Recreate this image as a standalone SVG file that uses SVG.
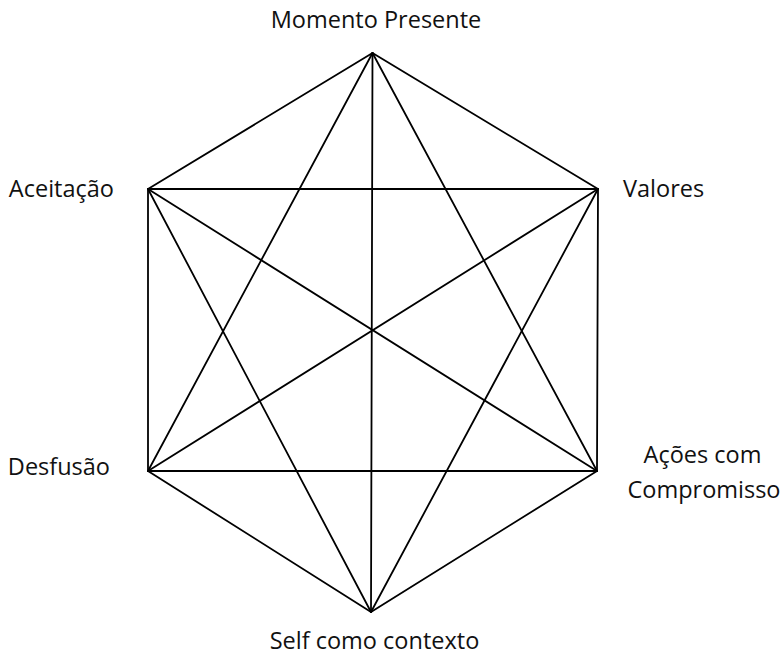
<svg xmlns="http://www.w3.org/2000/svg" width="783" height="655" viewBox="0 0 783 655">
<style>
.e{stroke:#000;stroke-width:1.8;fill:none;stroke-linecap:round}
.t{font-family:"Open Sans","Noto Sans",sans-serif;font-size:23.5px;fill:#111}
</style>
<rect width="783" height="655" fill="#fff"/>
<g id="connectors">
<line class="e" x1="372.5" y1="53" x2="598" y2="189"/>
<line class="e" x1="372.5" y1="53" x2="148" y2="189"/>
<line class="e" x1="372.5" y1="53" x2="148" y2="471"/>
<line class="e" x1="372.5" y1="53" x2="597" y2="471"/>
<line class="e" x1="372.5" y1="53" x2="371" y2="612"/>
<line class="e" x1="148" y1="189" x2="598" y2="189"/>
<line class="e" x1="148" y1="189" x2="148" y2="471"/>
<line class="e" x1="148" y1="189" x2="597" y2="471"/>
<line class="e" x1="148" y1="189" x2="371" y2="612"/>
<line class="e" x1="598" y1="189" x2="597" y2="471"/>
<line class="e" x1="598" y1="189" x2="148" y2="471"/>
<line class="e" x1="598" y1="189" x2="371" y2="612"/>
<line class="e" x1="148" y1="471" x2="597" y2="471"/>
<line class="e" x1="148" y1="471" x2="371" y2="612"/>
<line class="e" x1="597" y1="471" x2="371" y2="612"/>
</g>
<g id="n-momento"><text class="t" x="376" y="28" text-anchor="middle">Momento Presente</text></g>
<g id="n-aceitacao"><text class="t" x="114" y="197" text-anchor="end">Aceitação</text></g>
<g id="n-valores"><text class="t" x="623" y="197">Valores</text></g>
<g id="n-desfusao"><text class="t" x="110" y="475" text-anchor="end">Desfusão</text></g>
<g id="n-acoes"><text class="t" x="702.5" y="463" text-anchor="middle">Ações com</text><text class="t" x="704" y="498" text-anchor="middle">Compromisso</text></g>
<g id="n-self"><text class="t" x="374.5" y="649" text-anchor="middle">Self como contexto</text></g>
</svg>
